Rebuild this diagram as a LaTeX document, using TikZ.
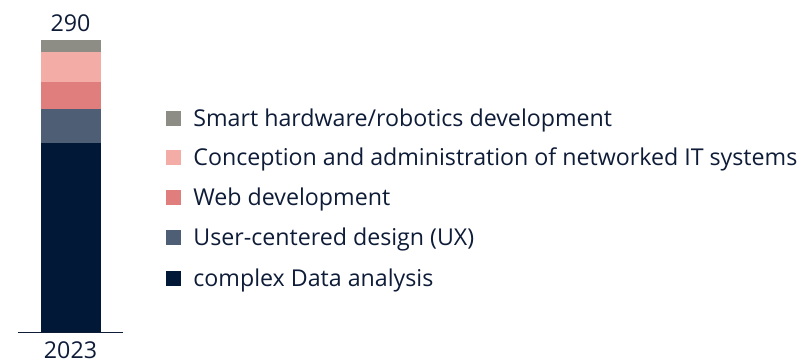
\documentclass[tikz,border=0pt]{standalone}
\usepackage{fontspec}
\setmainfont{Open Sans}
\usetikzlibrary{positioning}

\definecolor{datanavy}{HTML}{011936}
\definecolor{uxslate}{HTML}{4D5E75}
\definecolor{webred}{HTML}{E07E7E}
\definecolor{itpink}{HTML}{F4ACA7}
\definecolor{hwgray}{HTML}{8D8D86}
\definecolor{inknavy}{HTML}{0E1C38}

\begin{document}
\begin{tikzpicture}[
    x=1pt, y=1pt,
    seg/.style={rectangle, inner sep=0pt, minimum width=59pt, anchor=south, line width=0.3pt},
    key/.style={rectangle, inner sep=0pt, minimum size=15pt},
    lbl/.style={inner sep=0pt, text height=16pt, text depth=0pt, text=inknavy,
                font=\fontsize{23.2}{27}\selectfont}
]
\useasboundingbox (0,0) rectangle (812,362);

% Stacked bar
\node[seg, fill=datanavy, draw=datanavy, minimum height=189pt] (data) at (70.5,30) {};
\node[seg, fill=uxslate, draw=uxslate, minimum height=34pt] (ux) at (data.north) {};
\node[seg, fill=webred, draw=webred, minimum height=27pt] (web) at (ux.north) {};
\node[seg, fill=itpink, draw=itpink, minimum height=29pt] (it) at (web.north) {};
\node[seg, fill=hwgray, draw=hwgray, minimum height=11pt] (hw) at (it.north) {};

% Axis line
\coordinate (axl) at (18,30);
\coordinate (axr) at (123,30);
\draw[inknavy, line width=1pt] (axl) -- (axr);

% Total and year
\node[lbl] (total) at (70.5,338.5) {290};
\node[lbl] (year) at (70.5,12) {2023};

% Legend
\node[key, fill=hwgray] (khw) at (173.5,243) {};
\node[key, fill=itpink] (kit) at (173.5,204) {};
\node[key, fill=webred] (kweb) at (173.5,164) {};
\node[key, fill=uxslate] (kux) at (173.5,124) {};
\node[key, fill=datanavy] (kdata) at (173.5,84) {};

\node[lbl, right=12pt of khw] (thw) {Smart hardware/robotics development};
\node[lbl, right=12pt of kit] (tit) {Conception and administration of networked IT systems};
\node[lbl, right=12pt of kweb] (tweb) {Web development};
\node[lbl, right=12pt of kux] (tux) {User-centered design (UX)};
\node[lbl, right=12pt of kdata] (tdata) {complex Data analysis};

\end{tikzpicture}
\end{document}
